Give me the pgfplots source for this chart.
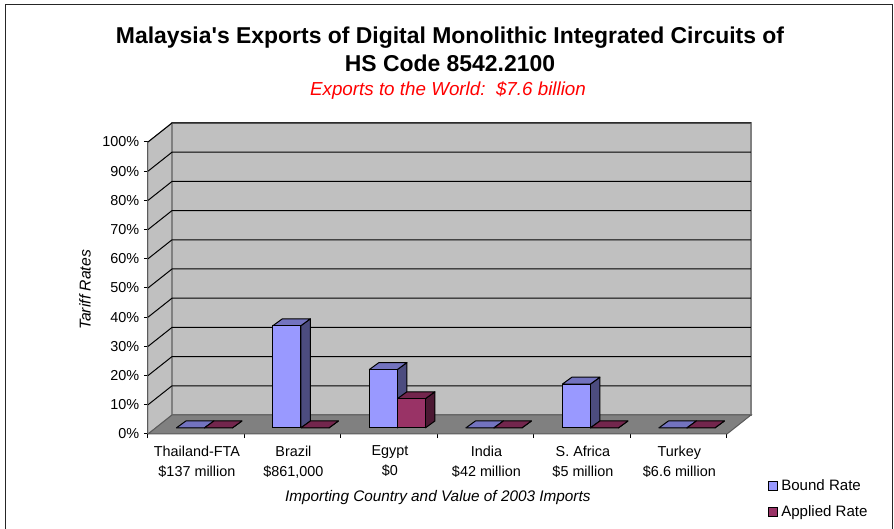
\documentclass[border=0pt]{standalone}
\usepackage{fontspec}
\setmainfont{Liberation Sans}
\newfontfamily\titlefont{Liberation Sans}
\usepackage{pgfplots}
\usepackage{pgfplotstable}
\pgfplotsset{compat=1.18}
\definecolor{boundF}{HTML}{9999FF}
\definecolor{boundT}{HTML}{7373BF}
\definecolor{boundS}{HTML}{4C4C7F}
\definecolor{appliedF}{HTML}{993366}
\definecolor{appliedT}{HTML}{73264D}
\definecolor{appliedS}{HTML}{4C1933}
\definecolor{wall}{HTML}{C0C0C0}
\definecolor{floorc}{HTML}{808080}
\pgfplotstableread{
x bound applied
0.5 0 0
1.5 35 0
2.5 20 10
3.5 0 0
4.5 15 0
5.5 0 0
}\ratestable
% side and top faces of one bar: #1 column, #2 side offset sign, #3 top colour, #4 side colour
\newcommand{\barfaces}[4]{%
  \pgfplotsforeachungrouped \i in {0,...,5}{%
    \pgfplotstablegetelem{\i}{x}\of\ratestable \let\cx\pgfplotsretval
    \pgfplotstablegetelem{\i}{#1}\of\ratestable \let\val\pgfplotsretval
    \pgfmathsetmacro\xl{\cx+(#2)*0.1451-0.1451}%
    \pgfmathsetmacro\xr{\cx+(#2)*0.1451+0.1451}%
    \pgfmathsetmacro\xlb{\xl+0.1}%
    \pgfmathsetmacro\xrb{\xr+0.1}%
    \pgfmathsetmacro\vb{\val+2.4}%
    \edef\temp{\noexpand\addplot[forget plot,fill=#4,draw=black,line width=.75pt,line join=round] coordinates {(\xr,0) (\xrb,2.4) (\xrb,\vb) (\xr,\val) (\xr,0)};
      \noexpand\addplot[forget plot,fill=#3,draw=black,line width=.75pt,line join=round] coordinates {(\xl,\val) (\xlb,\vb) (\xrb,\vb) (\xr,\val) (\xl,\val)};}%
    \temp
  }%
}
\begin{document}
\begin{tikzpicture}[every node/.style={text=black}]
\useasboundingbox (0,0) rectangle (670.5pt,396.75pt);
\draw[line width=.75pt,color=black!85] (3.75pt,-1pt) -- (3.75pt,393.4pt) -- (669pt,393.4pt) -- (669pt,-1pt);
\node[font=\titlefont\fontsize{17.2}{20}\bfseries\selectfont] at (337.5pt,368.2pt) {Malaysia's Exports of Digital Monolithic Integrated Circuits of};
\node[font=\fontsize{17.2}{20}\bfseries\selectfont] at (337.5pt,349.5pt) {HS Code 8542.2100};
\node[font=\fontsize{14.1}{16}\itshape\selectfont,text=red] at (336pt,329pt) {Exports to the World:\ \ \$7.6 billion};
\begin{axis}[
  at={(111pt,71.25pt)},anchor=south west,
  scale only axis,width=434.25pt,height=219pt,
  xmin=0,xmax=6,ymin=0,ymax=100,clip=false,
  axis x line*=bottom,axis y line*=left,
  axis line style={-,line width=.75pt,black},
  tick align=outside,
  major tick length=3pt,
  tick style={line width=.75pt,black},
  ytick={0,10,...,100},
  yticklabels={0\%,10\%,20\%,30\%,40\%,50\%,60\%,70\%,80\%,90\%,100\%},
  xtick={0,...,6},xticklabels={},
  extra x ticks={0.5,1.5,2.5,3.5,4.5,5.5},
  extra x tick style={major tick length=0pt},
  extra x tick labels={{Thailand-FTA\\\$137 million},{Brazil\\\$861,000},{Egypt\\\$0},{India\\\$42 million},{S. Africa\\\$5 million},{Turkey\\\$6.6 million}},
  every tick label/.append style={font=\fontsize{10.8}{15}\selectfont},
  xticklabel style={align=center,yshift=-5.5pt,xshift=0.5pt},
  xlabel={Importing Country and Value of 2003 Imports},
  xlabel style={font=\fontsize{11.5}{13}\itshape\selectfont,at={(0.5,0)},anchor=center,yshift=-47.75pt,xshift=0.25pt},
  ylabel={Tariff Rates},
  ylabel style={font=\fontsize{11.8}{13}\itshape\selectfont,at={(0,0.5)},anchor=center,rotate=0,yshift=47.25pt,xshift=-1.5pt},
]
\addplot[fill=wall,draw=floorc,line width=.75pt] coordinates {(0,0) (0.2487,6.507) (0.2487,106.507) (0,100) (0,0)};
\addplot[fill=wall,draw=floorc,line width=1pt] coordinates {(0.2487,6.507) (6.2487,6.507) (6.2487,106.507) (0.2487,106.507) (0.2487,6.507)};
\addplot[fill=floorc,draw=floorc!70!black,line width=.75pt] coordinates {(0,0) (6,0) (6.2487,6.507) (0.2487,6.507) (0,0)};
\pgfplotsinvokeforeach{10,20,...,100}{
  \draw[black,line width=.75pt] (axis cs:0,#1) -- (axis cs:0.2487,#1+6.507) -- (axis cs:6.2487,#1+6.507);
}
\end{axis}
\begin{axis}[
  at={(117pt,75.75pt)},anchor=south west,
  scale only axis,width=434.25pt,height=219pt,
  xmin=0,xmax=6,ymin=0,ymax=100,clip=false,hide axis,
  legend cell align=left,
  legend style={at={(1.057,-0.166)},anchor=north west,draw=none,fill=none,
    font=\fontsize{11.3}{13}\selectfont,row sep=6pt,inner sep=0pt},
  legend image code/.code={\path[#1,draw=black,line width=.75pt] (0pt,-3.2pt) rectangle (6.6pt,3.2pt);\path[draw=none,fill=none] (7.4pt,-3.2pt) rectangle (7.4pt,3.2pt);},
]
\barfaces{bound}{-1}{boundT}{boundS}
\addplot[ybar,bar width=21pt,bar shift=-10.5pt,fill=boundF,draw=black,line width=.75pt] table[x=x,y=bound] {\ratestable};
\addlegendentry{Bound Rate}
\barfaces{applied}{1}{appliedT}{appliedS}
\addplot[ybar,bar width=21pt,bar shift=10.5pt,fill=appliedF,draw=black,line width=.75pt] table[x=x,y=applied] {\ratestable};
\addlegendentry{Applied Rate}
\end{axis}
\end{tikzpicture}
\end{document}
